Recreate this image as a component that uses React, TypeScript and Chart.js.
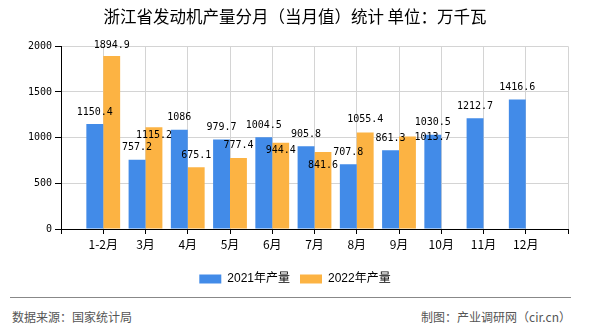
import React, { useEffect, useRef } from 'react';
import { Chart, registerables } from 'chart.js';

Chart.register(...registerables);

// ---- data ----
const categories = ['1-2月', '3月', '4月', '5月', '6月', '7月', '8月', '9月', '10月', '11月', '12月'];
const output2021 = [1150.4, 757.2, 1086, 979.7, 1004.5, 905.8, 707.8, 861.3, 1030.5, 1212.7, 1416.6];
const output2022 = [1894.9, 1115.2, 675.1, 777.4, 944.4, 841.6, 1055.4, 1013.7];
const seriesNames = ['2021年产量', '2022年产量'];
const yMax = 2000;
const yStep = 500;

const titleText = '浙江省发动机产量分月（当月值）统计 单位：万千瓦';
const sourceText = '数据来源：国家统计局';
const makerText = '制图：产业调研网（cir.cn）';

// label nudges (dx, dy in px relative to bar top) for the 2022 value labels
const nudge2022: [number, number][] = [
  [0, -10], [0, 8], [0, -12], [0, -13], [0, 8], [0, 13], [0, -13], [25, 1],
];
const nudge2021: [number, number] = [0, -12];

const BLUE = '#428BE8';
const ORANGE = '#FCB343';
const GRID = '#d4d4d4';
const MONO = '"DejaVu Sans Mono", "Liberation Mono", monospace';
const CJK = '"Noto Sans CJK SC", "Liberation Sans", sans-serif';

function pad<T>(arr: T[], len: number): (T | null)[] {
  const out: (T | null)[] = [null, ...arr];
  while (out.length < len) out.push(null);
  return out;
}

const valueLabels = {
  id: 'valueLabels',
  afterDatasetsDraw(chart: any) {
    const ctx = chart.ctx;
    ctx.save();
    ctx.font = `10px ${MONO}`;
    ctx.fillStyle = '#000';
    ctx.textAlign = 'center';
    ctx.textBaseline = 'middle';
    chart.data.datasets.forEach((ds: any, di: number) => {
      const meta = chart.getDatasetMeta(di);
      meta.data.forEach((bar: any, i: number) => {
        const v = ds.data[i];
        if (v == null) return;
        const n = di === 0 ? nudge2021 : (nudge2022[i - 1] || [0, -12]);
        ctx.fillText(String(v), bar.x + n[0], bar.y + n[1]);
      });
    });
    ctx.restore();
  },
};

export default function App() {
  const ref = useRef<HTMLCanvasElement | null>(null);

  useEffect(() => {
    if (!ref.current) return;
    const labels = ['', ...categories, ''];
    const n = labels.length;
    const chart = new Chart(ref.current, {
      type: 'bar',
      data: {
        labels,
        datasets: [
          {
            label: seriesNames[0],
            data: pad(output2021, n),
            backgroundColor: BLUE,
            borderWidth: 0,
            barPercentage: 1,
            categoryPercentage: 0.8,
          },
          {
            label: seriesNames[1],
            data: pad(output2022, n),
            backgroundColor: ORANGE,
            borderWidth: 0,
            barPercentage: 1,
            categoryPercentage: 0.8,
          },
        ],
      },
      options: {
        responsive: false,
        animation: false,
        devicePixelRatio: 1,
        layout: { padding: { top: 0, right: 0, left: 0, bottom: 0 } },
        plugins: {
          title: {
            display: true,
            text: titleText,
            color: '#000',
            font: { size: 16.5, family: CJK, weight: 'normal' },
            padding: { top: 7, bottom: 19.5 },
          },
          legend: {
            display: true,
            position: 'bottom',
            labels: {
              boxWidth: 22,
              boxHeight: 9,
              padding: 10,
              color: '#000',
              font: { size: 12, family: '"Liberation Sans", "Noto Sans CJK SC", sans-serif' },
            },
          },
          tooltip: { enabled: false },
        },
        scales: {
          x: {
            offset: false,
            grid: {
              offset: false,
              color: GRID,
              tickColor: '#000',
              tickLength: 5,
            },
            border: { color: '#000', width: 1 },
            ticks: {
              autoSkip: false,
              maxRotation: 0,
              padding: 3,
              color: '#000',
              font: { size: 12, family: CJK },
            },
            afterFit: (scale: any) => { scale.height = 34; },
          },
          y: {
            min: 0,
            max: yMax,
            grid: { color: GRID, tickColor: '#000', tickLength: 6 },
            border: { color: '#000', width: 1 },
            ticks: {
              stepSize: yStep,
              padding: 3,
              color: '#000',
              font: { size: 10, family: MONO },
              callback: (v: any) => String(v),
            },
            afterFit: (scale: any) => { scale.width = 61; },
          },
          yRight: {
            position: 'right',
            display: true,
            grid: { display: false, drawOnChartArea: false },
            border: { display: false },
            ticks: { display: false },
            afterFit: (scale: any) => { scale.width = 22; },
          },
        },
      },
      plugins: [valueLabels],
    });
    return () => chart.destroy();
  }, []);

  return (
    <div style={{ position: 'absolute', left: 0, top: 0, width: 590, height: 330, background: '#fff', overflow: 'hidden' }}>
      <canvas ref={ref} width={590} height={295} style={{ position: 'absolute', left: 0, top: 0, width: 590, height: 295 }} />
      <div style={{ position: 'absolute', left: 10, top: 297, width: 561, borderTop: '1px solid #888' }} />
      <div style={{ position: 'absolute', left: 12, top: 309, fontSize: 12, lineHeight: '16px', color: '#555', fontFamily: CJK, whiteSpace: 'nowrap' }}>{sourceText}</div>
      <div style={{ position: 'absolute', right: 19, top: 309, fontSize: 12, lineHeight: '16px', color: '#555', fontFamily: CJK, whiteSpace: 'nowrap' }}>{makerText}</div>
    </div>
  );
}
